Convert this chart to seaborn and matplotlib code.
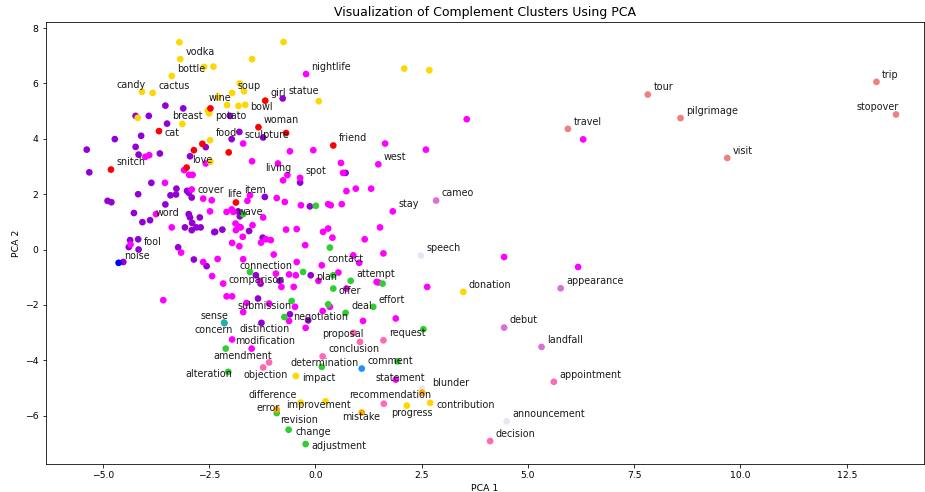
import pandas as pd
import numpy as np
import matplotlib
matplotlib.use('Agg')
import matplotlib.pyplot as plt
import seaborn as sns

# word, pca1, pca2  ("" = point without a label)
gold = [("", -3.20, 7.49), ("vodka", -3.18, 6.88), ("bottle", -2.62, 6.60), ("", -2.40, 6.61),
        ("", -3.38, 6.27), ("candy", -4.08, 5.70), ("cactus", -3.83, 5.66), ("wine", -2.53, 5.03),
        ("potato", -2.50, 4.92), ("", -2.29, 5.52), ("", -4.18, 4.76), ("", -3.13, 4.54),
        ("food", -2.48, 3.95), ("", -0.75, 7.50), ("", -1.49, 6.88), ("", -1.78, 6.00),
        ("soup", -1.96, 5.66), ("", -1.68, 5.72), ("", 0.08, 5.36), ("", -2.08, 5.22),
        ("", -1.81, 5.19), ("bowl", -1.65, 5.23), ("", -2.47, 3.17), ("", 2.09, 6.54),
        ("", 2.68, 6.48), ("donation", 3.48, -1.53), ("impact", -0.46, -4.57),
        ("difference", -0.35, -5.53), ("improvement", 0.24, -5.48), ("progress", 2.15, -5.64),
        ("contribution", 2.70, -5.54)]

red = [("", -2.47, 5.10), ("girl", -1.18, 5.38), ("woman", -1.34, 4.42), ("", -0.69, 4.21),
       ("friend", 0.42, 3.76), ("cat", -3.68, 4.28), ("", -2.86, 3.59), ("", -2.66, 3.82),
       ("love", -3.03, 2.96), ("snitch", -4.81, 2.89), ("", -2.04, 3.51), ("life", -1.87, 1.70)]

purple = [("", -3.53, 5.20), ("", -3.11, 5.10), ("", -4.23, 4.83), ("", -3.92, 4.83),
          ("breast", -3.49, 4.55), ("", -4.72, 3.99), ("", -4.10, 4.11), ("", -4.23, 3.71),
          ("", -5.38, 3.61), ("", -2.58, 3.70), ("statue", -0.77, 5.46), ("", -2.01, 4.83),
          ("sculpture", -1.79, 4.25), ("", -1.97, 3.99), ("", -1.23, 4.05), ("", -4.16, 3.43),
          ("", -3.66, 3.47), ("", -2.95, 3.37), ("", -5.32, 2.79), ("", -3.86, 2.41),
          ("", -4.17, 2.00), ("", -3.27, 2.20), ("", -3.41, 1.96), ("", -3.28, 1.99),
          ("", -3.02, 2.12), ("", -2.98, 2.05), ("cover", -2.91, 1.88), ("", -4.89, 1.76),
          ("", -4.80, 1.71), ("", -3.53, 1.63), ("", -4.27, 1.32), ("word", -3.89, 1.06),
          ("", -4.07, 0.99), ("", -2.98, 1.28), ("", -2.95, 1.16), ("", -2.72, 1.16),
          ("", -2.90, 0.96), ("", -3.07, 0.80), ("", -2.91, 0.70), ("", -2.80, 0.80),
          ("", -2.70, 0.80), ("", -2.38, 0.63), ("", -4.36, 0.34), ("", -4.17, 0.37),
          ("", -4.39, 0.09), ("fool", -4.16, 0.00), ("", -3.23, 0.08), ("", -4.52, -0.45),
          ("", -2.86, -0.36), ("", -2.56, -0.60), ("", -0.36, 2.42), ("", -1.19, 1.90),
          ("", -0.13, 1.56), ("", -1.82, 1.38), ("", -1.78, 1.20), ("", -2.36, 0.64),
          ("", -2.19, 0.72), ("", -1.79, 0.82), ("", -1.56, 0.67), ("", -1.24, 0.43),
          ("", -1.40, -0.93), ("comparison", -1.29, -1.23), ("", -0.84, -1.13), ("", -0.11, -0.93),
          ("", -1.35, -1.77), ("", -0.60, -2.34), ("", -0.17, -2.56), ("distinction", -1.27, -2.65),
          ("", 0.71, 2.77)]

magenta = [("nightlife", -0.22, 6.34), ("", -1.70, 3.83), ("", -0.60, 3.55), ("", -0.05, 3.59),
           ("", -4.00, 3.35), ("", -3.91, 3.41), ("", -2.58, 3.11), ("", -3.09, 2.87),
           ("", -2.97, 2.70), ("", -2.89, 2.70), ("", -3.54, 2.41), ("", -2.91, 2.17),
           ("", -2.64, 1.84), ("", -2.44, 1.78), ("", -2.48, 1.38), ("", -3.75, 1.28),
           ("", -3.38, 0.80), ("", -4.35, 0.18), ("", -3.16, -0.11), ("", -2.64, -0.45),
           ("", -2.30, -0.34), ("", -1.49, 3.19), ("", -0.88, 3.11), ("", 0.60, 3.13),
           ("west", 1.48, 3.08), ("living", -0.66, 2.69), ("", -0.76, 2.50), ("spot", -0.36, 2.59),
           ("", 0.65, 2.77), ("", 0.73, 2.11), ("", 0.95, 2.20), ("", 1.31, 2.20),
           ("item", -1.54, 1.96), ("", -1.60, 1.76), ("", -0.91, 1.86), ("", -0.72, 1.72),
           ("", -0.34, 1.60), ("", 0.30, 1.64), ("", 0.36, 1.60), ("", 0.62, 1.64),
           ("", -2.09, 1.36), ("", -1.97, 1.45), ("", -1.93, 1.36), ("", -1.23, 1.16),
           ("", -1.88, 0.94), ("", -1.76, 0.80), ("", -1.87, 0.70), ("", -1.48, 0.88),
           ("", -0.69, 0.72), ("", -0.44, 0.74), ("", 0.18, 0.64), ("", 0.30, 0.76),
           ("", 0.40, 0.43), ("", 1.16, 0.37), ("", -1.71, 0.46), ("", -1.16, 0.37),
           ("", -1.05, 0.34), ("", -1.28, 0.25), ("", -1.96, 0.24), ("", -1.79, 0.12),
           ("", -0.24, 0.16), ("", -0.98, -0.18), ("", -1.70, -0.35), ("", -0.44, -0.45),
           ("", 0.15, -0.57), ("", 0.89, -0.21), ("", 1.03, -0.48), ("", -2.43, -0.96),
           ("", -2.17, -1.23), ("", -0.93, -0.87), ("", -0.62, -0.90), ("", -0.46, -0.93),
           ("", -1.31, -1.13), ("", -0.80, -1.35), ("", -0.51, -1.35), ("plan", 0.07, -1.13),
           ("", 0.54, -0.83), ("", 0.73, -1.41), ("", 1.44, -1.17), ("", -2.09, -1.69),
           ("", -1.96, -1.69), ("", -1.62, -1.93), ("", -1.70, -2.26), ("submission", -1.09, -1.95),
           ("", -0.48, -2.07), ("", -0.62, -2.58), ("", -0.23, -2.83), ("", 0.34, -2.07),
           ("", 0.17, -2.22), ("", 1.12, -2.58), ("modification", -1.96, -3.25), ("", -1.50, -3.58),
           ("", 1.60, -0.14), ("", 4.44, -0.27), ("", 1.48, -1.19), ("", 2.63, -1.35),
           ("", 1.89, -2.49), ("statement", 1.89, -4.70), ("", 6.18, -0.63), ("", 3.56, 4.71),
           ("", 1.64, 3.83), ("", 2.60, 3.61), ("stay", 1.82, 1.38), ("", 1.52, 0.80),
           ("", 6.30, 3.98), ("", -3.58, -1.83)]

green = [("", 0.01, 1.58), ("wave", -1.70, 1.28), ("contact", 0.34, 0.07), ("connection", -1.54, -0.81),
         ("", -0.29, -0.81), ("", 0.42, -0.93), ("offer", 0.42, -1.41), ("attempt", 0.83, -1.13),
         ("", -0.56, -1.86), ("negotiation", -0.73, -2.44), ("", 0.30, -1.98), ("deal", 0.71, -2.29),
         ("effort", 1.36, -2.07), ("amendment", -2.11, -3.58), ("alteration", -2.05, -4.42),
         ("", 0.15, -4.24), ("revision", -0.91, -5.91), ("change", -0.63, -6.51),
         ("adjustment", -0.23, -7.03), ("", 1.58, -1.23), ("", 2.54, -2.88), ("", 1.93, -4.04)]

coral = [("tour", 7.82, 5.60), ("pilgrimage", 8.59, 4.75), ("travel", 5.94, 4.36),
         ("visit", 9.69, 3.31), ("trip", 13.20, 6.06), ("stopover", 13.66, 4.88)]

orchid = [("cameo", 2.84, 1.77), ("appearance", 5.77, -1.40), ("debut", 4.44, -2.82),
          ("landfall", 5.32, -3.52)]

pink = [("proposal", 0.89, -3.01), ("conclusion", 1.05, -3.34), ("request", 1.60, -3.28),
        ("determination", 0.17, -3.86), ("", -1.09, -4.08), ("objection", -1.23, -4.26),
        ("", 1.61, -5.57), ("appointment", 5.61, -4.78), ("decision", 4.11, -6.92)]

lavender = [("speech", 2.48, -0.22), ("blunder", 2.50, -5.02), ("announcement", 4.50, -6.21)]

orange = [("error", -0.91, -5.78), ("mistake", 1.09, -5.89), ("recommendation", 2.51, -5.17)]

blue = [("noise", -4.63, -0.48)]
dodger = [("comment", 1.09, -4.30)]
teal = [("sense", -2.15, -2.64), ("concern", -2.14, -2.66)]

clusters = {"purple": purple, "magenta": magenta, "gold": gold, "red": red, "green": green,
            "coral": coral, "orchid": orchid, "pink": pink, "lavender": lavender,
            "orange": orange, "blue": blue, "dodger": dodger, "teal": teal}

colors = {"purple": "darkviolet", "magenta": "magenta", "gold": "gold", "red": "red",
          "green": "limegreen", "coral": "lightcoral", "orchid": "orchid", "pink": "hotpink",
          "lavender": "lavender", "orange": "orange", "blue": "blue", "dodger": "dodgerblue",
          "teal": "lightseagreen"}

rows = []
for name, pts in clusters.items():
    for w, x, y in pts:
        rows.append({"word": w, "PCA1": x, "PCA2": y, "cluster": name})
df = pd.DataFrame(rows)

# where the text sits relative to its point (points, +y = up); default otherwise
label_offsets = {
    "candy": (-25, 7), "bottle": (-27, -2), "cat": (6, -2), "wine": (1, 12), "bowl": (5, -2),
    "potato": (6, -3), "sculpture": (5, -3), "living": (-22, 7), "life": (-9, 8),
    "item": (-6, 5), "wave": (-6, 2), "contact": (-2, -11), "connection": (-10, 6),
    "comparison": (-32, 4), "plan": (-2, 4), "offer": (5, -2), "submission": (-32, -2),
    "negotiation": (9, 0), "sense": (-23, 7), "concern": (-30, -7), "distinction": (-22, -6),
    "modification": (3, -2), "proposal": (-31, -1), "conclusion": (-32, -7),
    "amendment": (-12, -7), "objection": (-20, -8), "determination": (-32, -7),
    "alteration": (-43, -2), "impact": (6, -2), "statement": (-20, 2), "blunder": (10, 5),
    "recommendation": (-73, -2), "difference": (-52, 8), "error": (-20, 2),
    "improvement": (-39, -4), "revision": (3, -7), "change": (7, -2), "adjustment": (6, -2),
    "mistake": (-20, -4), "progress": (-16, -7), "contribution": (6, -2), "stopover": (-39, 7),
}

sns.set_style("ticks", {"text.color": "black", "axes.labelcolor": "black",
                        "xtick.color": "black", "ytick.color": "black",
                        "axes.edgecolor": "black"})
plt.rcParams['font.family'] = ['DejaVu Sans']

fig = plt.figure(figsize=(925 / 72, 492 / 72), dpi=72)
ax = fig.add_axes([0.0492, 0.0563, 0.9498, 0.9000])

sns.scatterplot(data=df, x="PCA1", y="PCA2", hue="cluster", palette=colors,
                s=45, linewidth=0, alpha=1, legend=False, ax=ax)

for _, r in df[df["word"] != ""].iterrows():
    dx, dy = label_offsets.get(r["word"], (5.5, 7.3))
    ax.annotate(r["word"], (r["PCA1"], r["PCA2"]), xytext=(dx, dy),
                textcoords="offset points", ha="left", va="center",
                fontsize=9.6, color="#1a1a1a")

ax.set_xlim(-6.35, 14.32)
ax.set_ylim(-7.76, 8.24)
ax.set_title("Visualization of Complement Clusters Using PCA", fontsize=12.5)
ax.set_xlabel("PCA 1", fontsize=9.2)
ax.set_ylabel("PCA 2", fontsize=9.2)
ax.tick_params(labelsize=9.2, colors="black")
for s in ax.spines.values():
    s.set_color("black")
    s.set_linewidth(0.8)

fig.savefig("out.png", dpi=72)
